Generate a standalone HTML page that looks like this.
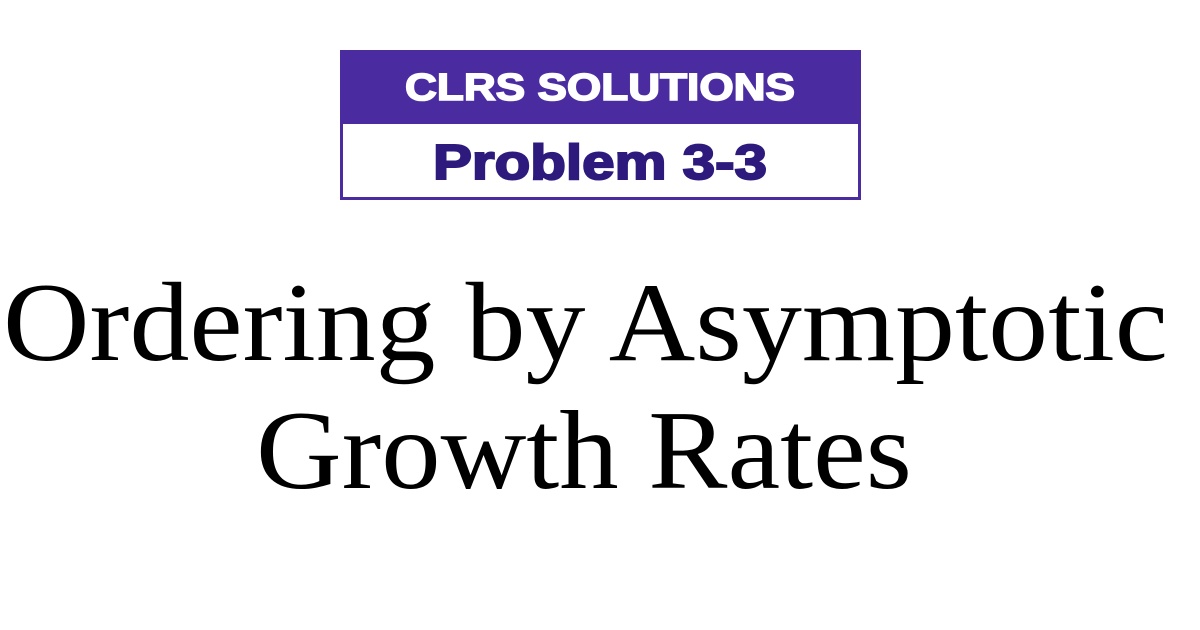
<!DOCTYPE html>
<html><head><meta charset="utf-8"><style>
html,body{margin:0;padding:0;background:#fff;width:1200px;height:630px;overflow:hidden}
</style></head><body>
<svg width="1200" height="630" viewBox="0 0 1200 630">
<rect x="0" y="0" width="1200" height="630" fill="#fff"/>
<g>
<rect x="341.5" y="51.5" width="518" height="147" fill="#fff" stroke="#4a2ba0" stroke-width="3"/>
<rect x="340" y="50" width="521" height="74" fill="#4a2ba0"/>
<text x="600" y="100" text-anchor="middle" font-family="'Liberation Sans',sans-serif" font-weight="bold" font-size="38" fill="#fff" stroke="#fff" stroke-width="1.6" textLength="390" lengthAdjust="spacingAndGlyphs">CLRS SOLUTIONS</text>
<text x="600" y="179" text-anchor="middle" font-family="'Liberation Sans',sans-serif" font-weight="bold" font-size="49" fill="#2d1a7c" stroke="#2d1a7c" stroke-width="2" textLength="334" lengthAdjust="spacingAndGlyphs">Problem 3-3</text>
</g>
<text x="3" y="360" font-family="'Liberation Serif',serif" font-size="112" fill="#000" textLength="1165" lengthAdjust="spacingAndGlyphs">Ordering by Asymptotic</text>
<text x="256" y="488" font-family="'Liberation Serif',serif" font-size="112" fill="#000" textLength="656" lengthAdjust="spacingAndGlyphs">Growth Rates</text>
</svg>
</body></html>
